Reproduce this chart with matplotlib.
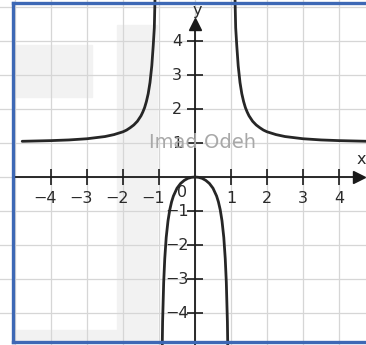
import numpy as np
import matplotlib.pyplot as plt
from matplotlib.patches import Rectangle

# points read along the three branches of the curve
left_x = [-4.8, -4.0, -3.5, -3.0, -2.5, -2.25, -2.0, -1.9, -1.8, -1.7, -1.6, -1.5,
          -1.45, -1.4, -1.35, -1.3, -1.25, -1.2, -1.16, -1.13, -1.1, -1.08]
left_y = [1.05, 1.07, 1.09, 1.125, 1.19, 1.247, 1.33, 1.38, 1.45, 1.53, 1.64, 1.8,
          1.91, 2.04, 2.22, 2.45, 2.78, 3.27, 3.87, 4.39, 5.76, 7.0]
mid_x = [-0.93, -0.9, -0.87, -0.84, -0.8, -0.75, -0.7, -0.65, -0.6, -0.5, -0.4,
         -0.3, -0.2, -0.1, 0.0, 0.1, 0.2, 0.3, 0.4, 0.5, 0.6, 0.65, 0.7, 0.75,
         0.8, 0.84, 0.87, 0.9, 0.93]
mid_y = [-6.4, -4.26, -3.1, -2.4, -1.78, -1.29, -0.96, -0.73, -0.56, -0.33, -0.19,
         -0.1, -0.04, -0.01, 0.0, -0.01, -0.04, -0.1, -0.19, -0.33, -0.56, -0.73,
         -0.96, -1.29, -1.78, -2.4, -3.1, -4.26, -6.4]
right_x = [1.08, 1.1, 1.13, 1.16, 1.2, 1.25, 1.3, 1.35, 1.4, 1.45, 1.5, 1.6, 1.7,
           1.8, 1.9, 2.0, 2.25, 2.5, 3.0, 3.5, 4.0, 4.8]
right_y = [7.0, 5.76, 4.39, 3.87, 3.27, 2.78, 2.45, 2.22, 2.04, 1.91, 1.8, 1.64,
           1.53, 1.45, 1.38, 1.33, 1.247, 1.19, 1.125, 1.09, 1.07, 1.05]

x_ticks = [-4, -3, -2, -1, 1, 2, 3, 4]
y_ticks = [-4, -3, -2, -1, 1, 2, 3, 4]

W, H = 366, 345
fig = plt.figure(figsize=(W / 100, H / 100), dpi=100)
ax = fig.add_axes([0, 0, 1, 1])
ax.set_zorder(2)
ax.set_facecolor('none')

# pixel -> data: origin at (195, 177), 36 px per x unit, 34 px per y unit
ox, oy, sx, sy = 195, 177, 36.0, 34.0
ax.set_xlim((0 - ox) / sx, (W - ox) / sx)
ax.set_ylim((oy - H) / sy, oy / sy)


def fx(px):
    return px / W


def fy(py):
    return 1 - py / H


def dx(px):
    return (px - ox) / sx


def dy(py):
    return (oy - py) / sy


# faint blocks in the background
gray = '#f2f2f2'
for (x0, y0, x1, y1) in [(13, 45, 92, 97), (117, 25, 157, 342), (13, 330, 157, 342)]:
    fig.patches.append(Rectangle((fx(x0), fy(y1)), fx(x1) - fx(x0), fy(y0) - fy(y1),
                                 transform=fig.transFigure, color=gray, zorder=0))

# grid
for gx in range(-5, 5):
    ax.axvline(gx, color='#d6d6d6', lw=0.9, zorder=1)
for gy in range(-4, 6):
    ax.axhline(gy, color='#d6d6d6', lw=0.9, zorder=1)

# axes through the origin
for s in ['top', 'right']:
    ax.spines[s].set_visible(False)
ax.spines['left'].set_position(('data', 0))
ax.spines['bottom'].set_position(('data', 0))
ax.spines['left'].set_bounds(ax.get_ylim()[0], dy(22))
ax.spines['bottom'].set_bounds(dx(13), dx(358))
for s in ['left', 'bottom']:
    ax.spines[s].set_linewidth(1.3)
    ax.spines[s].set_color('#1a1a1a')
    ax.spines[s].set_zorder(3)
ax.set_xticks(x_ticks)
ax.set_yticks(y_ticks)
ax.tick_params(direction='inout', length=11, width=1.2, color='#1a1a1a',
               labelbottom=False, labelleft=False)
ax.plot(dx(359), 0, marker='>', ms=9, color='#1a1a1a', clip_on=False, zorder=4)
ax.plot(0, dy(24), marker='^', ms=9, color='#1a1a1a', clip_on=False, zorder=4)

# tick labels
font = dict(fontsize=11.5, color='#2a2a2a', family='DejaVu Sans')
for t in x_ticks:
    if t < 0:
        ax.text(t + 0.17, -0.62, '\u2212' + str(-t), ha='right', va='center', **font)
    else:
        ax.text(t, -0.62, str(t), ha='center', va='center', **font)
for t in y_ticks:
    if t < 0:
        ax.text(-0.18, t, '\u2212' + str(-t), ha='right', va='center', **font)
    else:
        ax.text(-0.5, t, str(t), ha='center', va='center', **font)
ax.text(-0.36, -0.47, '0', ha='center', va='center', **font)
ax.text(dx(361), dy(159), 'x', ha='center', va='center', **font)
ax.text(0.05, dy(10), 'y', ha='center', va='center', **font)

# curve
for xs, ys in [(left_x, left_y), (mid_x, mid_y), (right_x, right_y)]:
    ax.plot(xs, ys, color='#262626', lw=2.0, zorder=5, solid_capstyle='round')

ax.text(0.22, 1.0, 'Imad Odeh', fontsize=14, color='#a8a8a8', ha='center',
        va='center', zorder=6)

# blue frame
blue = '#3d68b5'
for xs, ys in [([13, 13], [3, 342]), ([13, W], [3, 3]), ([13, W], [342, 342])]:
    fig.lines.append(plt.Line2D([fx(v) for v in xs], [fy(v) for v in ys], color=blue,
                                lw=2.4, transform=fig.transFigure, zorder=10))

fig.savefig('out.png', dpi=100)
